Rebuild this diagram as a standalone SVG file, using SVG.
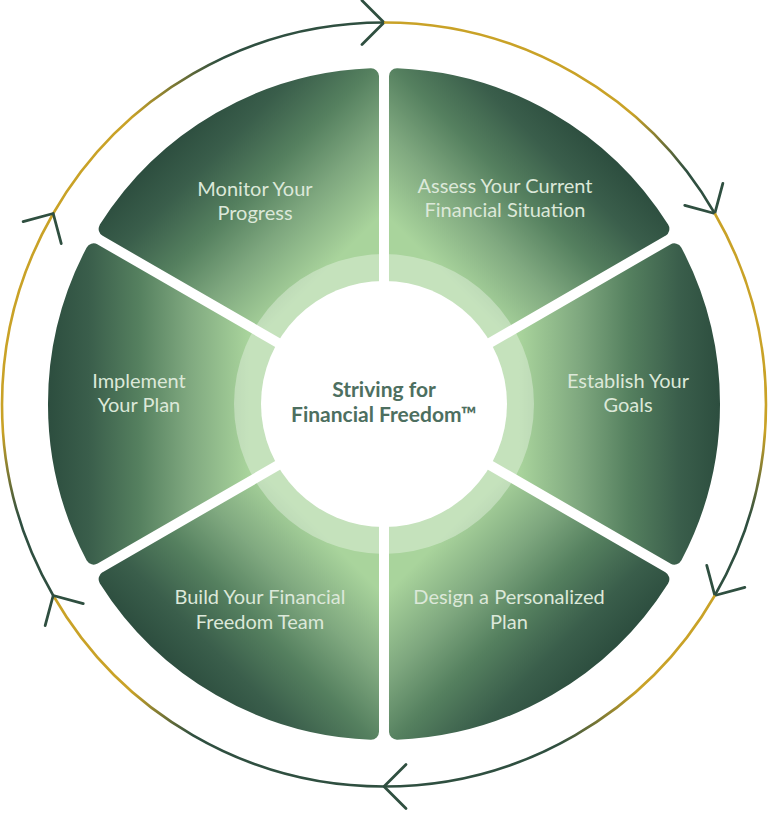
<svg xmlns="http://www.w3.org/2000/svg" width="771" height="815" viewBox="0 0 771 815">
<style>
.seg{stroke-width:16;stroke-linejoin:round}
.lbl{font-family:Lato,"Liberation Sans",sans-serif;font-size:20px;fill:#dce8d9;text-anchor:middle}
.ctr{font-family:Lato,"Liberation Sans",sans-serif;font-size:21px;font-weight:700;fill:#4d6f60;text-anchor:middle}
.arc{fill:none;stroke-width:2.6;marker-end:url(#chev)}
</style>
<defs>
<marker id="chev" markerUnits="userSpaceOnUse" markerWidth="40" markerHeight="60" viewBox="-30 -30 40 60" refX="0" refY="0" orient="auto" overflow="visible">
<path d="M-22,-22 L0,0 L-22,22" fill="none" stroke="#2f4f40" stroke-width="2.8" stroke-linecap="round" stroke-linejoin="round"/>
</marker>
<linearGradient id="gE" gradientUnits="userSpaceOnUse" x1="519" y1="404" x2="719" y2="404"><stop offset="0" stop-color="#a9d49c"/><stop offset="0.3" stop-color="#7fa87f"/><stop offset="0.55" stop-color="#55805f"/><stop offset="0.8" stop-color="#3a5e4b"/><stop offset="1" stop-color="#2d4e3f"/></linearGradient>
<linearGradient id="gI" gradientUnits="userSpaceOnUse" x1="249" y1="404" x2="49" y2="404"><stop offset="0" stop-color="#a9d49c"/><stop offset="0.3" stop-color="#7fa87f"/><stop offset="0.55" stop-color="#55805f"/><stop offset="0.8" stop-color="#3a5e4b"/><stop offset="1" stop-color="#2d4e3f"/></linearGradient>
<linearGradient id="gM" gradientUnits="userSpaceOnUse" x1="288.5" y1="308.5" x2="147.1" y2="167.1"><stop offset="0" stop-color="#a9d49c"/><stop offset="0.3" stop-color="#7fa87f"/><stop offset="0.55" stop-color="#55805f"/><stop offset="0.8" stop-color="#3a5e4b"/><stop offset="1" stop-color="#2d4e3f"/></linearGradient>
<linearGradient id="gA" gradientUnits="userSpaceOnUse" x1="479.5" y1="308.5" x2="620.9" y2="167.1"><stop offset="0" stop-color="#a9d49c"/><stop offset="0.3" stop-color="#7fa87f"/><stop offset="0.55" stop-color="#55805f"/><stop offset="0.8" stop-color="#3a5e4b"/><stop offset="1" stop-color="#2d4e3f"/></linearGradient>
<linearGradient id="gD" gradientUnits="userSpaceOnUse" x1="479.5" y1="499.5" x2="620.9" y2="640.9"><stop offset="0" stop-color="#a9d49c"/><stop offset="0.3" stop-color="#7fa87f"/><stop offset="0.55" stop-color="#55805f"/><stop offset="0.8" stop-color="#3a5e4b"/><stop offset="1" stop-color="#2d4e3f"/></linearGradient>
<linearGradient id="gB" gradientUnits="userSpaceOnUse" x1="288.5" y1="499.5" x2="147.1" y2="640.9"><stop offset="0" stop-color="#a9d49c"/><stop offset="0.3" stop-color="#7fa87f"/><stop offset="0.55" stop-color="#55805f"/><stop offset="0.8" stop-color="#3a5e4b"/><stop offset="1" stop-color="#2d4e3f"/></linearGradient>
<linearGradient id="a1" gradientUnits="userSpaceOnUse" x1="53.2" y1="213.5" x2="384" y2="22.5"><stop offset="0.3" stop-color="#c9a227"/><stop offset="0.58" stop-color="#2f4f40"/></linearGradient>
<linearGradient id="a2" gradientUnits="userSpaceOnUse" x1="384" y1="22.5" x2="714.8" y2="213.5"><stop offset="0.68" stop-color="#c9a227"/><stop offset="0.88" stop-color="#2f4f40"/></linearGradient>
<linearGradient id="a3" gradientUnits="userSpaceOnUse" x1="714.8" y1="213.5" x2="714.8" y2="595.5"><stop offset="0.57" stop-color="#c9a227"/><stop offset="0.8" stop-color="#2f4f40"/></linearGradient>
<linearGradient id="a4" gradientUnits="userSpaceOnUse" x1="714.8" y1="595.5" x2="384" y2="786.5"><stop offset="0.3" stop-color="#c9a227"/><stop offset="0.55" stop-color="#2f4f40"/></linearGradient>
<linearGradient id="a5" gradientUnits="userSpaceOnUse" x1="53.2" y1="595.5" x2="384" y2="786.5"><stop offset="0.3" stop-color="#c9a227"/><stop offset="0.5" stop-color="#2f4f40"/></linearGradient>
<linearGradient id="a6" gradientUnits="userSpaceOnUse" x1="53.2" y1="213.5" x2="53.2" y2="595.5"><stop offset="0.57" stop-color="#c9a227"/><stop offset="0.8" stop-color="#2f4f40"/></linearGradient>
</defs>
<rect width="771" height="815" fill="#ffffff"/>
<g id="connectors">
<path class="arc" stroke="url(#a1)" d="M53.2,213.5 A382,382 0 0 1 384,22.5"/>
<path class="arc" stroke="url(#a2)" d="M384,22.5 A382,382 0 0 1 714.8,213.5"/>
<path class="arc" stroke="url(#a3)" d="M714.8,213.5 A382,382 0 0 1 714.8,595.5"/>
<path class="arc" stroke="url(#a4)" d="M714.8,595.5 A382,382 0 0 1 384,786.5"/>
<path class="arc" stroke="url(#a5)" d="M384,786.5 A382,382 0 0 1 53.2,595.5"/>
<path class="arc" stroke="url(#a6)" d="M53.2,595.5 A382,382 0 0 1 53.2,213.5"/>
</g>
<g id="node-assess">
<path class="seg" fill="url(#gA)" stroke="url(#gA)" d="M397,381.48 L396.99,76.26 A328,328 0 0 1 661.36,228.88 Z"/>
<text class="lbl" x="505" y="192.5">Assess Your Current</text>
<text class="lbl" x="505" y="217">Financial Situation</text>
</g>
<g id="node-establish">
<path class="seg" fill="url(#gE)" stroke="url(#gE)" d="M410,404 L674.35,251.38 A328,328 0 0 1 674.35,556.62 Z"/>
<text class="lbl" x="628" y="387.7">Establish Your</text>
<text class="lbl" x="628" y="412">Goals</text>
</g>
<g id="node-design">
<path class="seg" fill="url(#gD)" stroke="url(#gD)" d="M397,426.52 L661.36,579.12 A328,328 0 0 1 396.99,731.74 Z"/>
<text class="lbl" x="509" y="604">Design a Personalized</text>
<text class="lbl" x="509" y="628.5">Plan</text>
</g>
<g id="node-build">
<path class="seg" fill="url(#gB)" stroke="url(#gB)" d="M371,426.52 L371.01,731.74 A328,328 0 0 1 106.64,579.12 Z"/>
<text class="lbl" x="260" y="604">Build Your Financial</text>
<text class="lbl" x="260" y="628.5">Freedom Team</text>
</g>
<g id="node-implement">
<path class="seg" fill="url(#gI)" stroke="url(#gI)" d="M358,404 L93.65,556.62 A328,328 0 0 1 93.65,251.38 Z"/>
<text class="lbl" x="139" y="387.7">Implement</text>
<text class="lbl" x="139" y="412">Your Plan</text>
</g>
<g id="node-monitor">
<path class="seg" fill="url(#gM)" stroke="url(#gM)" d="M371,381.48 L106.64,228.88 A328,328 0 0 1 371.01,76.26 Z"/>
<text class="lbl" x="255" y="195.5">Monitor Your</text>
<text class="lbl" x="255" y="220">Progress</text>
</g>
<g id="node-center">
<circle cx="384" cy="404" r="150" fill="#ffffff" fill-opacity="0.33"/>
<circle cx="384" cy="404" r="123" fill="#ffffff"/>
<text class="ctr" x="384" y="397">Striving for</text>
<text class="ctr" x="384" y="422">Financial Freedom™</text>
</g>
</svg>
